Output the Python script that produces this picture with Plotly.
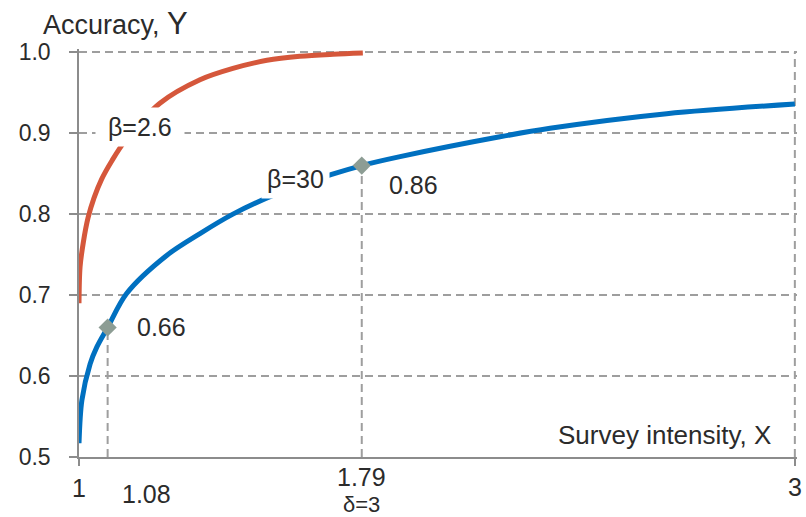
import plotly.graph_objects as go

# Accuracy curves Y(X) for two beta values
red_x = [1.0, 1.003, 1.012, 1.025, 1.042, 1.063, 1.092, 1.128, 1.226, 1.338, 1.43, 1.525, 1.617, 1.71, 1.793]
red_y = [0.690, 0.735, 0.765, 0.795, 0.820, 0.843, 0.866, 0.890, 0.937, 0.966, 0.980, 0.990, 0.995, 0.9975, 0.999]

blue_x = [1.0, 1.008, 1.031, 1.05, 1.08, 1.133, 1.245, 1.338, 1.43, 1.552, 1.706, 1.79, 1.897,
          2.176, 2.316, 2.642, 3.0]
blue_y = [0.517, 0.570, 0.615, 0.636, 0.66, 0.702, 0.749, 0.776, 0.800, 0.825, 0.849, 0.86, 0.871,
          0.8955, 0.906, 0.924, 0.936]

# Highlighted points on the beta=30 curve
pt_x = [1.08, 1.79]
pt_y = [0.66, 0.86]
pt_labels = ["0.66", "0.86"]

y_ticks = [0.5, 0.6, 0.7, 0.8, 0.9, 1.0]
y_ticktext = ["0.5", "0.6", "0.7", "0.8", "0.9", "1.0"]

RED = "#D5573B"
BLUE = "#0070C0"
MARK = "#8D9D94"
GRID = "#9E9E9E"
AXIS = "#8C8C8C"
TXT = "#2B2B2B"
FONT = "Liberation Sans, Arial, sans-serif"
DASH = "8px,5px"

fig = go.Figure()
fig.add_trace(go.Scatter(x=red_x, y=red_y, mode="lines",
                         line=dict(color=RED, width=5, shape="spline", smoothing=0.9),
                         hoverinfo="skip"))
fig.add_trace(go.Scatter(x=blue_x, y=blue_y, mode="lines",
                         line=dict(color=BLUE, width=5, shape="spline", smoothing=0.9),
                         hoverinfo="skip"))
fig.add_trace(go.Scatter(x=pt_x, y=pt_y, mode="markers",
                         marker=dict(symbol="diamond", size=14, color=MARK),
                         hoverinfo="skip"))

shapes = []
# drop lines from the highlighted points to the X axis
for xv, yv in zip(pt_x, pt_y):
    shapes.append(dict(type="line", xref="x", yref="y", x0=xv, x1=xv, y0=y_ticks[0], y1=yv,
                       line=dict(color=GRID, width=2, dash=DASH), layer="below"))
# right border of the grid at X = 3
shapes.append(dict(type="line", xref="x", yref="y", x0=3, x1=3, y0=y_ticks[0], y1=y_ticks[-1],
                   line=dict(color=GRID, width=2, dash=DASH), layer="below"))

ann = []
# value labels next to the highlighted points
ann.append(dict(x=pt_x[0], y=pt_y[0], xref="x", yref="y", text=pt_labels[0], showarrow=False,
                xanchor="left", yanchor="middle", xshift=27, yshift=0,
                font=dict(size=25, color=TXT, family=FONT)))
ann.append(dict(x=pt_x[1], y=pt_y[1], xref="x", yref="y", text=pt_labels[1], showarrow=False,
                xanchor="left", yanchor="middle", xshift=25, yshift=-19,
                font=dict(size=25, color=TXT, family=FONT)))
# curve labels on white boxes
ann.append(dict(x=1.170, y=0.908, xref="x", yref="y", text="&nbsp;β=2.6&nbsp;", showarrow=False,
                xanchor="center", yanchor="middle", bgcolor="white", borderpad=5,
                font=dict(size=25, color=TXT, family=FONT)))
ann.append(dict(x=1.606, y=0.843, xref="x", yref="y", text="β=30", showarrow=False,
                xanchor="center", yanchor="middle", bgcolor="white", borderpad=5,
                font=dict(size=25, color=TXT, family=FONT)))
# X tick labels
ann.append(dict(x=1, y=0, xref="x", yref="paper", text="1", showarrow=False,
                xanchor="center", yanchor="middle", yshift=-31,
                font=dict(size=25, color=TXT, family=FONT)))
ann.append(dict(x=pt_x[0], y=0, xref="x", yref="paper", text="1.08", showarrow=False,
                xanchor="left", yanchor="middle", xshift=12, yshift=-37,
                font=dict(size=25, color=TXT, family=FONT)))
ann.append(dict(x=pt_x[1], y=0, xref="x", yref="paper", text="1.79", showarrow=False,
                xanchor="center", yanchor="middle", yshift=-20,
                font=dict(size=25, color=TXT, family=FONT)))
ann.append(dict(x=pt_x[1], y=0, xref="x", yref="paper", text="δ=3", showarrow=False,
                xanchor="center", yanchor="middle", yshift=-47,
                font=dict(size=22, color=TXT, family=FONT)))
ann.append(dict(x=3, y=0, xref="x", yref="paper", text="3", showarrow=False,
                xanchor="center", yanchor="middle", yshift=-30,
                font=dict(size=25, color=TXT, family=FONT)))
# axis titles
ann.append(dict(x=3, y=0, xref="x", yref="paper", text="Survey intensity, X", showarrow=False,
                xanchor="right", yanchor="middle", xshift=-22, yshift=22,
                font=dict(size=26, color=TXT, family=FONT)))
ann.append(dict(x=0, y=1, xref="paper", yref="paper",
                text="Accuracy, <span style='font-size:31px'>Y</span>", showarrow=False,
                xanchor="left", yanchor="middle", xshift=-38, yshift=26,
                font=dict(size=27, color=TXT, family=FONT)))

fig.update_layout(
    width=806, height=517,
    margin=dict(l=79, r=9, t=49, b=60),
    paper_bgcolor="white", plot_bgcolor="white",
    showlegend=False,
    shapes=shapes, annotations=ann,
    font=dict(family=FONT, color=TXT),
)
fig.update_xaxes(range=[1, 3.006], tickvals=[1, 3], showticklabels=False,
                 ticks="outside", ticklen=7, tickwidth=1.5, tickcolor=AXIS,
                 showgrid=False, zeroline=False,
                 showline=True, linecolor=AXIS, linewidth=1.5)
fig.update_yaxes(range=[0.5, 1.004], tickvals=y_ticks, ticktext=y_ticktext,
                 ticks="outside", ticklen=8, tickwidth=1.5, tickcolor=AXIS,
                 ticklabelstandoff=14,
                 tickfont=dict(size=23, color=TXT, family=FONT),
                 showgrid=True, gridcolor=GRID, gridwidth=2, griddash=DASH,
                 zeroline=False,
                 showline=True, linecolor=AXIS, linewidth=1.5)

fig.write_html("out.html")
